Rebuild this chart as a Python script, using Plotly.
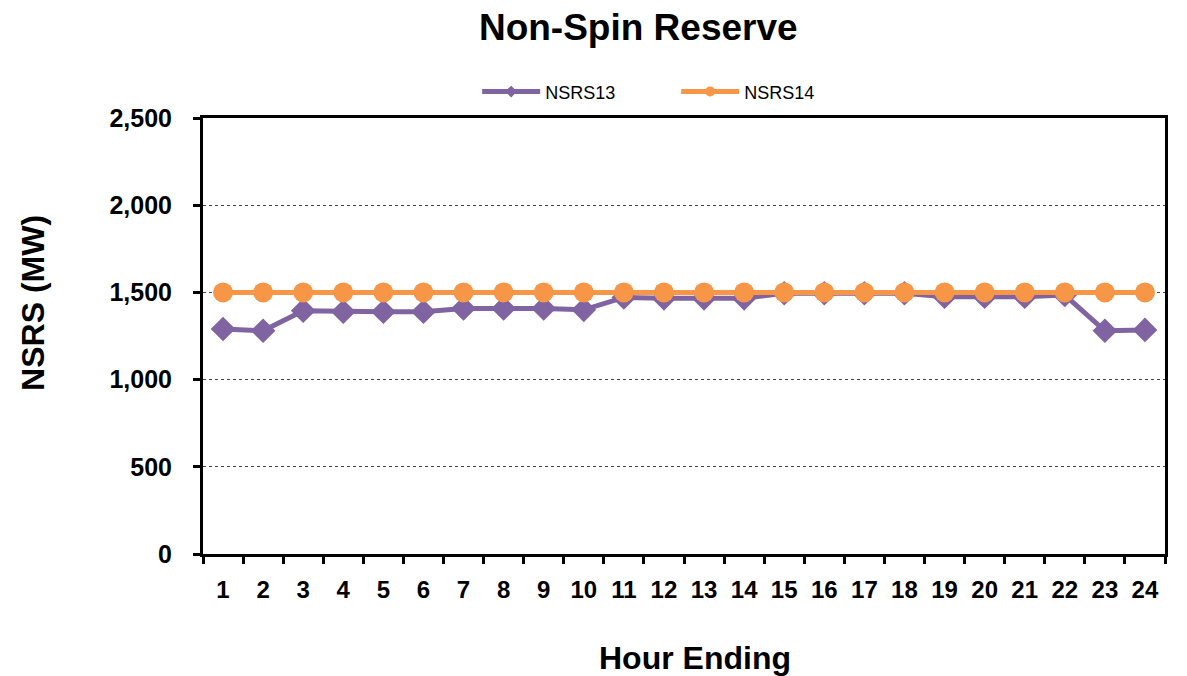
import plotly.graph_objects as go

hours = [str(h) for h in range(1, 25)]
nsrs13 = [1290, 1280, 1395, 1389, 1389, 1389, 1408, 1408, 1408, 1400, 1471, 1466,
          1466, 1466, 1495, 1495, 1495, 1495, 1475, 1475, 1475, 1485, 1280, 1285]
nsrs14 = [1500] * 24

PURPLE = "#8064A2"
ORANGE = "#F79646"

fig = go.Figure()
fig.add_trace(go.Scatter(x=hours, y=nsrs13, name="NSRS13", mode="lines+markers",
                         line=dict(color=PURPLE, width=5), showlegend=False,
                         marker=dict(symbol="diamond", size=19, color=PURPLE)))
fig.add_trace(go.Scatter(x=hours, y=nsrs14, name="NSRS14", mode="lines+markers",
                         line=dict(color=ORANGE, width=5), showlegend=False,
                         marker=dict(symbol="circle", size=20, color=ORANGE)))
# legend entries (smaller markers, as in the reference legend)
fig.add_trace(go.Scatter(x=[None], y=[None], name="NSRS13", mode="lines+markers",
                         line=dict(color=PURPLE, width=5),
                         marker=dict(symbol="diamond", size=9, color=PURPLE)))
fig.add_trace(go.Scatter(x=[None], y=[None], name="NSRS14", mode="lines+markers",
                         line=dict(color=ORANGE, width=5),
                         marker=dict(symbol="circle", size=10, color=ORANGE)))

font_family = "Liberation Sans, Arial, sans-serif"
fig.update_layout(
    width=1187, height=676,
    paper_bgcolor="white", plot_bgcolor="white",
    margin=dict(l=195, r=30, t=110, b=130),
    font=dict(family=font_family, color="black"),
    title=dict(text="<b>Non-Spin Reserve</b>", x=0.531, xanchor="center", y=0.972, yanchor="middle",
               font=dict(size=37, family=font_family, color="black")),
    legend=dict(orientation="h", x=0.285, xanchor="left", y=1.06, yanchor="middle",
                font=dict(size=18), itemwidth=58, entrywidth=126, entrywidthmode="pixels",
                traceorder="normal"),
    showlegend=True,
    annotations=[
        dict(text="<b>NSRS (MW)</b>", xref="paper", yref="paper", x=-0.1767, y=0.576,
             xanchor="center", yanchor="middle", textangle=-90, showarrow=False,
             font=dict(size=32, family=font_family, color="black")),
        dict(text="<b>Hour Ending</b>", xref="paper", yref="paper", x=0.511, y=-0.2385,
             xanchor="center", yanchor="middle", showarrow=False,
             font=dict(size=32, family=font_family, color="black")),
    ],
)
fig.update_xaxes(
    type="category", range=[-0.5, 23.5], tickson="boundaries", ticks="outside", ticklen=7,
    tickwidth=3, tickcolor="black",
    showline=True, linewidth=3, linecolor="black", mirror=True, showgrid=False,
    tickfont=dict(size=24, family=font_family), ticklabelstandoff=12,
    tickprefix="<b>", ticksuffix="</b>",
)
fig.update_yaxes(
    range=[0, 2500], dtick=500, tickformat=",d", ticks="outside", ticklen=7, tickwidth=3, tickcolor="black",
    showline=True, linewidth=3, linecolor="black", mirror=True,
    showgrid=True, gridcolor="#444444", gridwidth=1, griddash="dot", zeroline=False,
    tickfont=dict(size=25, family=font_family), tickprefix="<b>", ticksuffix="</b>",
    ticklabelstandoff=16,
)
fig.write_html("out.html")
